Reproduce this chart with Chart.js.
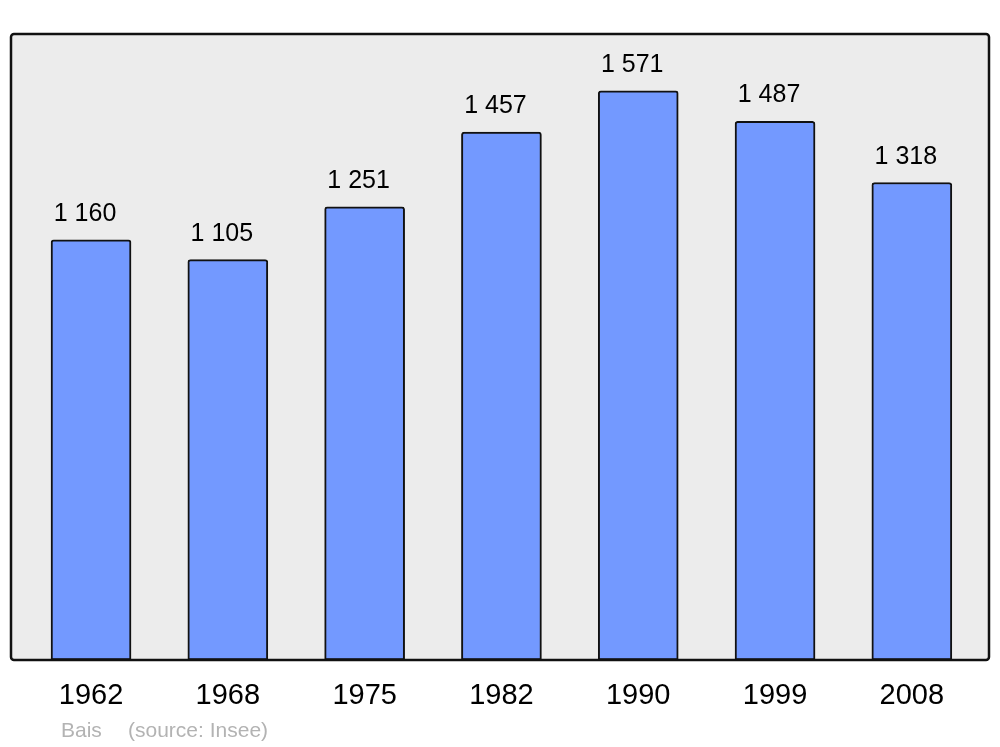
<!DOCTYPE html>
<html><head><meta charset="utf-8">
<script src="https://cdn.jsdelivr.net/npm/chart.js@4/dist/chart.umd.min.js"></script>
<style>html,body{margin:0;padding:0;background:#fff}#wrap{width:1000px;height:747px}</style>
</head><body><div id="wrap"><canvas id="c" width="1000" height="747"></canvas></div>
<script>
const years = ['1962','1968','1975','1982','1990','1999','2008'];
const population = [1160, 1105, 1251, 1457, 1571, 1487, 1318];
const yMax = 1728;
const placeName = 'Bais';
const sourceText = '(source: Insee)';

const FONT = '"Liberation Sans", Arial, sans-serif';
function fmt(v){ return String(v).replace(/\B(?=(\d{3})+(?!\d))/g, ' '); }

const framePlugin = {
  id: 'frame',
  beforeDraw(chart){
    const {ctx, chartArea:a} = chart;
    ctx.save();
    ctx.beginPath();
    ctx.roundRect(a.left, a.top, a.right-a.left, a.bottom-a.top, 3);
    ctx.fillStyle = '#ececec';
    ctx.fill();
    ctx.restore();
  },
  afterDatasetsDraw(chart){
    const {ctx, chartArea:a} = chart;
    const meta = chart.getDatasetMeta(0);
    ctx.save();
    ctx.font = '25px ' + FONT;
    ctx.fillStyle = '#000';
    ctx.textAlign = 'center';
    ctx.textBaseline = 'alphabetic';
    meta.data.forEach((el, i) => {
      ctx.fillText(fmt(population[i]), el.x - 6, el.y - 19);
    });
    ctx.beginPath();
    ctx.roundRect(a.left, a.top, a.right-a.left, a.bottom-a.top, 3);
    ctx.lineWidth = 2.5;
    ctx.strokeStyle = '#111';
    ctx.stroke();
    ctx.font = '21px ' + FONT;
    ctx.fillStyle = '#b3b3b3';
    ctx.textAlign = 'left';
    ctx.fillText(placeName, a.left + 50, 737);
    ctx.fillText(sourceText, a.left + 117, 737);
    ctx.restore();
  }
};

new Chart(document.getElementById('c'), {
  type: 'bar',
  data: {
    datasets: [{
      data: population.map((v, i) => ({x: i, y: v})),
      backgroundColor: '#7399ff',
      borderColor: '#111',
      borderWidth: 2,
      borderSkipped: false,
      borderRadius: {topLeft: 3, topRight: 3, bottomLeft: 0, bottomRight: 0},
      barThickness: 80
    }]
  },
  plugins: [framePlugin],
  options: {
    responsive: false,
    animation: false,
    layout: {padding: {left: 11, right: 11, top: 34, bottom: 0}},
    plugins: {legend: {display: false}, tooltip: {enabled: false}},
    scales: {
      x: {
        type: 'linear',
        offset: false,
        min: -0.585, max: 6.564,
        grid: {display: false, drawTicks: false},
        border: {display: false},
        afterBuildTicks(scale){ scale.ticks = years.map((_, i) => ({value: i})); },
        afterFit(scale){ scale.height = 87; },
        ticks: {
          padding: 19,
          color: '#000',
          font: {family: FONT, size: 29},
          callback: (v) => years[v]
        }
      },
      y: {
        min: 0, max: yMax,
        display: false
      }
    }
  }
});
</script></body></html>
